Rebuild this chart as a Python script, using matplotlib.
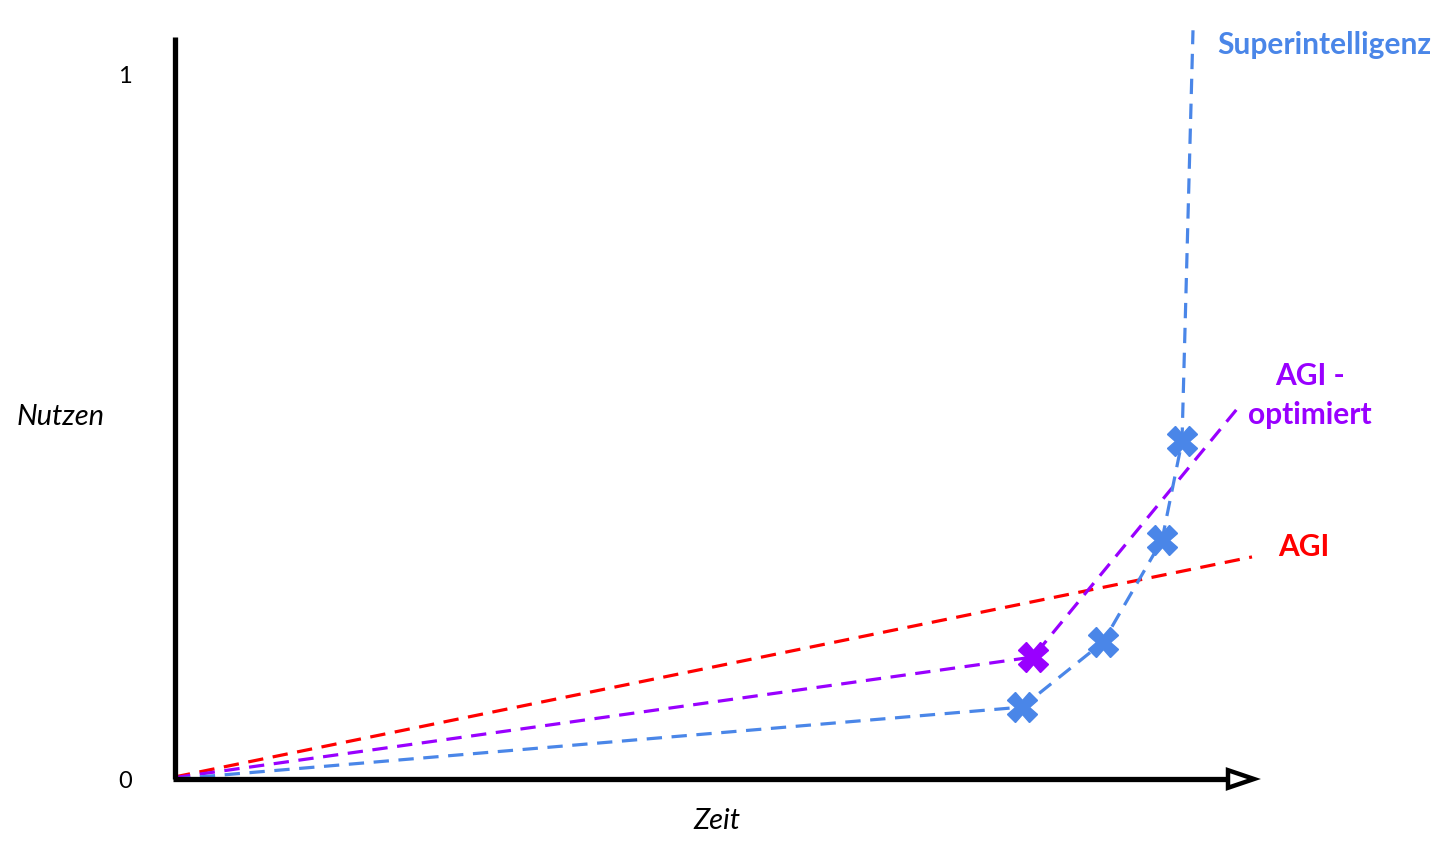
import matplotlib
matplotlib.use("Agg")
import matplotlib.pyplot as plt
from matplotlib.patches import Polygon

# data (Zeit, Nutzen)
agi_x = [0.0, 1.077]
agi_y = [0.003, 0.315]

opt_x = [0.0, 0.858, 1.065]
opt_y = [0.002, 0.173, 0.530]
opt_marker_x = [0.858]
opt_marker_y = [0.173]

sup_x = [0.0, 0.847, 0.928, 0.987, 1.007, 1.018]
sup_y = [0.0, 0.102, 0.194, 0.339, 0.479, 1.062]
sup_marker_x = [0.847, 0.928, 0.987, 1.007]
sup_marker_y = [0.102, 0.194, 0.339, 0.479]

y_ticks = [0, 1]
y_tick_labels = ["0", "1"]

RED = "#ff0000"
PURPLE = "#9900ff"
BLUE = "#4a86e8"

fig = plt.figure(figsize=(14.56, 8.51), dpi=100)
ax = fig.add_axes([0, 0, 1, 1])
ax.set_xlim(-0.175, 1.281)
ax.set_ylim(-72 / 705, 779 / 705)
ax.axis("off")

dash = (0, (4.8, 3))
lw = 2.3

ax.plot(agi_x, agi_y, color=RED, lw=lw, ls=dash)
ax.plot(opt_x, opt_y, color=PURPLE, lw=lw, ls=dash)
ax.plot(sup_x, sup_y, color=BLUE, lw=lw, ls=dash)
ax.plot(opt_marker_x, opt_marker_y, ls="none", marker="X", ms=21,
        color=PURPLE, mec=PURPLE)
ax.plot(sup_marker_x, sup_marker_y, ls="none", marker="X", ms=21,
        color=BLUE, mec=BLUE)

# axes drawn by hand
ax.plot([0, 0], [0, 1.052], color="black", lw=3.8, solid_capstyle="butt")
ax.plot([-0.002, 1.053], [0, 0], color="black", lw=3.8, solid_capstyle="butt")
head = Polygon([[1.053, 0.0125], [1.053, -0.0125], [1.079, 0.0]],
               closed=True, facecolor="white", edgecolor="black", lw=3.2,
               joinstyle="miter")
ax.add_patch(head)

for t, lab in zip(y_ticks, y_tick_labels):
    ax.text(-0.05, t - 0.004, lab, ha="center", va="center", fontsize=17,
            family="Lato", color="black")

ax.text(-0.114, 0.513, "Nutzen", ha="center", va="center", fontsize=21,
        family="Lato", style="italic", color="black")
ax.text(0.542, -0.06, "Zeit", ha="center", va="center", fontsize=21,
        family="Lato", style="italic", color="black")

ax.text(1.042, 1.041, "Superintelligenz", ha="left", va="center",
        fontsize=21.5, family="Lato", weight="bold", color=BLUE)
ax.text(1.135, 0.544, "AGI -\noptimiert", ha="center", va="center",
        fontsize=21.5, family="Lato", weight="bold", color=PURPLE,
        linespacing=1.45)
ax.text(1.103, 0.329, "AGI", ha="left", va="center", fontsize=21.5,
        family="Lato", weight="bold", color=RED)

fig.savefig("out.png", dpi=100, facecolor="white")
